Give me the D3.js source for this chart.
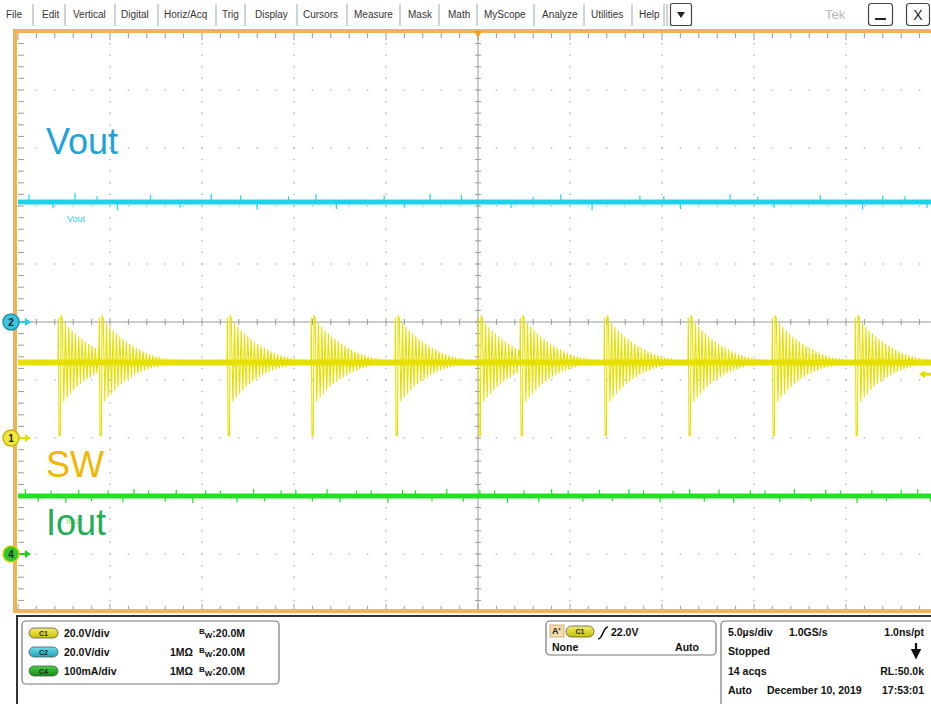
<!DOCTYPE html>
<html><head><meta charset="utf-8">
<script src="https://cdn.jsdelivr.net/npm/d3@7"></script>
<style>
html,body{margin:0;padding:0;background:#fff;}
svg{display:block;font-family:"Liberation Sans",Arial,Helvetica,sans-serif;}
</style></head><body>
<svg id="scope" width="931" height="704"></svg>
<script>
// ---- menu ----
const menuItems = ["File","Edit","Vertical","Digital","Horiz/Acq","Trig","Display","Cursors","Measure","Mask","Math","MyScope","Analyze","Utilities","Help"];

// ---- timebase: 5 µs/div, 10 divisions ----
const timeDomain = [0, 50];          // µs across the screen
const usPerDiv = 5;

// ---- channel setup ----
const chNames   = ["C1", "C2", "C4"];
const chScale   = [20, 20, 0.1];     // V/div, V/div, A/div
const chOffset  = [-2, 0, -4];       // ground marker position (divisions from centre)
const chMarks   = ["1", "2", "4"];
const chLabels  = ["SW", "Vout", "Iout"];

// ---- measured levels ----
const voutLevel = 41.4;              // V  (C2)
const ioutLevel = 0.10;              // A  (C4)
const swBase    = 26.0;              // V  (C1) idle level
const swTop     = 41.5;              // V  spike top
const swBottom  = 0.8;               // V  spike bottom
const trigLevel = 22.0;              // V

// switching events on C1 (µs)
const swPulseTimes = [2.17, 4.40, 11.36, 15.92, 20.49, 25.00, 27.28, 31.85, 36.41, 40.98, 45.49];
// damped ringing after each event: successive upper / lower peaks (V)
const ringHi = [41.0, 39.6, 38.3, 37.1, 36.0, 35.0, 34.1, 33.3, 32.5, 31.8, 31.1, 30.5, 29.9, 29.4, 28.9, 28.5, 28.1, 27.8, 27.5, 27.2, 26.9, 26.7];
const ringLo = [12.6, 14.0, 15.3, 16.5, 17.6, 18.6, 19.5, 20.3, 21.0, 21.7, 22.3, 22.8, 23.3, 23.7, 24.1, 24.4, 24.7, 25.0, 25.2, 25.4, 25.6, 25.7];
const ringPeriod = 0.18;             // µs per ring cycle

// noise glitches on the DC traces: time (µs) and excursion
const voutGlitchT = [0.6, 1.9, 3.1, 4.3, 5.4, 7.2, 8.8, 10.5, 12.1, 13.0, 14.7, 16.2, 17.3, 19.9, 21.0, 22.4, 24.1, 26.8, 28.0, 29.5, 31.2, 33.8, 35.1, 36.0, 38.7, 40.2, 41.1, 43.6, 45.9, 47.0, 48.2, 49.4];
const voutGlitchV = [1.2, -1.0, 1.4, 0.9, -1.3, 1.1, -0.9, 1.3, 1.0, -1.2, 0.9, 1.2, -1.1, 1.0, -0.9, 1.3, 1.1, -1.0, 0.8, 1.2, -1.3, 1.0, 0.9, -1.1, 1.2, 0.8, -0.9, 1.1, -1.2, 1.0, 0.9, -1.0];
const ioutGlitchT = [0.4, 1.1, 1.8, 2.6, 3.3, 4.0, 4.9, 5.7, 6.3, 7.1, 8.0, 8.6, 9.5, 10.2, 11.0, 11.9, 12.8, 13.4, 14.3, 15.1, 16.0, 16.8, 17.5, 18.4, 19.2, 20.1, 20.9, 21.6, 22.5, 23.3, 24.2, 25.1, 25.9, 26.6, 27.5, 28.3, 29.0, 29.9, 30.7, 31.6, 32.3, 33.2, 34.0, 34.9, 35.6, 36.5, 37.3, 38.1, 38.9, 39.8, 40.6, 41.4, 42.2, 43.1, 43.9, 44.7, 45.6, 46.4, 47.2, 48.0, 48.9, 49.6];
const ioutGlitchV = [0.012, -0.010, 0.009, -0.012, 0.011, -0.009, 0.010, -0.011, 0.012, 0.009, -0.010, 0.011, -0.012, 0.010, 0.009, -0.011, 0.012, -0.009, 0.010, 0.011, -0.010, 0.012, -0.011, 0.009, 0.010, -0.012, 0.011, 0.010, -0.009, 0.012, -0.010, 0.011, 0.009, -0.012, 0.010, -0.011, 0.012, 0.009, -0.010, 0.011, -0.009, 0.012, 0.010, -0.011, 0.009, 0.012, -0.010, 0.011, -0.012, 0.010, 0.009, -0.011, 0.012, -0.010, 0.011, 0.009, -0.012, 0.010, -0.009, 0.011, 0.012, -0.010];

// ---- readout texts ----
const vertReadout = [
  ["C1", "20.0V/div", "",    "20.0M"],
  ["C2", "20.0V/div", "1MΩ", "20.0M"],
  ["C4", "100mA/div", "1MΩ", "20.0M"]
];
const trigSource = "C1", trigText = "22.0V", trigMode = ["None", "Auto"];
const horizRows = [
  ["5.0µs/div", "1.0GS/s", "1.0ns/pt"],
  ["Stopped", "", ""],
  ["14 acqs", "", "RL:50.0k"],
  ["Auto", "December 10, 2019", "17:53:01"]
];

// ====================== drawing ======================
const svg = d3.select("#scope");
const W = 931, H = 704;
const plot = {left: 18, right: 938, top: 32, bottom: 612};
const x = d3.scaleLinear().domain(timeDomain).range([plot.left, plot.right]);
const yDiv = d3.scaleLinear().domain([-5, 5]).range([plot.bottom, plot.top]);
const chY = i => d3.scaleLinear()
  .domain([(-5 - chOffset[i]) * chScale[i], (5 - chOffset[i]) * chScale[i]])
  .range([plot.bottom, plot.top]);
const yC1 = chY(0), yC2 = chY(1), yC4 = chY(2);

const colors = {
  C1: "#e6e000", C2: "#1fd2e8", C4: "#22e022",
  lblSW: "#f2b705", lblVout: "#1ea3da", lblIout: "#1fae55",
  frame: "#f2b25a", grid: "#b4b4b4", axis: "#9a9a9a"
};

svg.append("rect").attr("width", W).attr("height", H).attr("fill", "#fff");

const defs = svg.append("defs");
defs.append("clipPath").attr("id", "plotClip").append("rect")
  .attr("x", 17).attr("y", 33).attr("width", W - 17).attr("height", 577);
defs.append("filter").attr("id", "soft")
  .attr("filterUnits", "userSpaceOnUse").attr("x", 0).attr("y", 0).attr("width", W).attr("height", H)
  .append("feGaussianBlur").attr("stdDeviation", 0.4);

// ---- graticule ----
const grat = svg.append("g");
const minorX = d3.range(0, 50.001, usPerDiv / 5);
const minorY = d3.range(-5, 5.001, 0.2);
const divX = d3.range(0, 51, usPerDiv);
const divY = d3.range(-5, 6, 1);
const dots = [];
divX.forEach(t => { if (t !== 25 && t > 0 && t < 50) minorY.forEach(d => dots.push([x(t), yDiv(d)])); });
divY.forEach(d => { if (d !== 0 && d > -5 && d < 5) minorX.forEach(t => dots.push([x(t), yDiv(d)])); });
grat.selectAll("rect.dot").data(dots).join("rect").attr("class", "dot")
  .attr("x", d => d[0] - 0.7).attr("y", d => d[1] - 0.7)
  .attr("width", 1.4).attr("height", 1.4).attr("fill", colors.grid);

// centre axes with minor ticks
grat.append("line").attr("x1", plot.left).attr("x2", W).attr("y1", yDiv(0)).attr("y2", yDiv(0))
  .attr("stroke", colors.axis).attr("stroke-width", 1);
grat.append("line").attr("x1", x(25)).attr("x2", x(25)).attr("y1", plot.top).attr("y2", plot.bottom)
  .attr("stroke", colors.axis).attr("stroke-width", 1);
grat.selectAll("line.tx").data(minorX).join("line").attr("class", "tx")
  .attr("x1", d => x(d)).attr("x2", d => x(d))
  .attr("y1", d => yDiv(0) - (d % usPerDiv === 0 ? 4 : 3)).attr("y2", d => yDiv(0) + (d % usPerDiv === 0 ? 4 : 3))
  .attr("stroke", colors.axis);
grat.selectAll("line.ty").data(minorY).join("line").attr("class", "ty")
  .attr("y1", d => yDiv(d)).attr("y2", d => yDiv(d))
  .attr("x1", x(25) - 3).attr("x2", x(25) + 3).attr("stroke", colors.axis);
// edge ticks
grat.selectAll("line.et").data(minorX).join("line").attr("class", "et")
  .attr("x1", d => x(d)).attr("x2", d => x(d)).attr("y1", plot.top).attr("y2", d => plot.top + (d % usPerDiv === 0 ? 8 : 6))
  .attr("stroke", colors.axis);
grat.selectAll("line.eb").data(minorX).join("line").attr("class", "eb")
  .attr("x1", d => x(d)).attr("x2", d => x(d)).attr("y1", plot.bottom).attr("y2", d => plot.bottom - (d % usPerDiv === 0 ? 8 : 6))
  .attr("stroke", colors.axis);
grat.selectAll("line.el").data(minorY).join("line").attr("class", "el")
  .attr("y1", d => yDiv(d)).attr("y2", d => yDiv(d)).attr("x1", plot.left).attr("x2", plot.left + 6)
  .attr("stroke", colors.axis);

// ---- waveforms ----
const traces = svg.append("g").attr("clip-path", "url(#plotClip)");
const line = d3.line().x(d => x(d[0]));

// Vout (C2)
traces.append("path").datum([[0, voutLevel], [50, voutLevel]])
  .attr("d", line.y(d => yC2(d[1]))).attr("stroke", colors.C2).attr("stroke-width", 5).attr("fill", "none").attr("filter", "url(#soft)");
traces.selectAll("line.vg").data(voutGlitchT).join("line").attr("class", "vg")
  .attr("x1", d => x(d)).attr("x2", d => x(d))
  .attr("y1", yC2(voutLevel)).attr("y2", (d, i) => yC2(voutLevel + voutGlitchV[i] * 2.2))
  .attr("stroke", colors.C2).attr("stroke-width", 1.2);

// Iout (C4)
traces.append("path").datum([[0, ioutLevel], [50, ioutLevel]])
  .attr("d", line.y(d => yC4(d[1]))).attr("stroke", colors.C4).attr("stroke-width", 5).attr("fill", "none").attr("filter", "url(#soft)");
traces.selectAll("line.ig").data(ioutGlitchT).join("line").attr("class", "ig")
  .attr("x1", d => x(d)).attr("x2", d => x(d))
  .attr("y1", yC4(ioutLevel)).attr("y2", (d, i) => yC4(ioutLevel + ioutGlitchV[i]))
  .attr("stroke", colors.C4).attr("stroke-width", 1.2);

// SW (C1): idle band + switching events with ringing
traces.append("path").datum([[0, swBase], [50, swBase]])
  .attr("d", line.y(d => yC1(d[1]))).attr("stroke", colors.C1).attr("stroke-width", 6).attr("fill", "none").attr("filter", "url(#soft)");
const swPts = [[0, swBase]];
swPulseTimes.forEach((t0, i) => {
  const tEnd = i + 1 < swPulseTimes.length ? swPulseTimes[i + 1] : 50;
  swPts.push([t0, swBase], [t0 + 0.02, swTop], [t0 + 0.06, swBottom], [t0 + 0.13, swBottom],
             [t0 + 0.17, swTop + 0.6], [t0 + 0.23, swTop]);
  let tk = t0 + 0.23;
  for (let k = 0; k < ringLo.length; k++) {
    const tl = tk + ringPeriod / 2, th = tk + ringPeriod;
    if (tl >= tEnd) break;
    swPts.push([tl, ringLo[k]]);
    if (th >= tEnd || k + 1 >= ringHi.length) { tk = th; break; }
    swPts.push([th, ringHi[k + 1]]);
    tk = th;
  }
  if (tk < tEnd) swPts.push([tk + ringPeriod / 2, swBase], [tEnd, swBase]);
});
traces.append("path").datum(swPts)
  .attr("d", line.y(d => yC1(d[1]))).attr("stroke", colors.C1).attr("stroke-width", 1.1)
  .attr("fill", "none").attr("stroke-linejoin", "miter");

// ---- channel name labels ----
const lbl = svg.append("g");
lbl.append("text").attr("x", 67).attr("y", 222).attr("font-size", 9).attr("fill", colors.C2).text("Vout");
lbl.append("text").attr("x", 66).attr("y", 524).attr("font-size", 9).attr("fill", "#8ce08c").text("Iout");
lbl.append("text").attr("x", 46).attr("y", 154).attr("font-size", 36).attr("fill", colors.lblVout).text(chLabels[1]);
lbl.append("text").attr("x", 46).attr("y", 477).attr("font-size", 36).attr("fill", colors.lblSW).text(chLabels[0]);
lbl.append("text").attr("x", 46).attr("y", 535).attr("font-size", 36).attr("fill", colors.lblIout).text(chLabels[2]);

// ---- frame ----
svg.append("path").attr("d", `M${W},31 H15 V611 H${W}`).attr("fill", "none")
  .attr("stroke", colors.frame).attr("stroke-width", 4);
// trigger position marker
svg.append("path").attr("d", `M${x(25) - 4},31 L${x(25) + 4},31 L${x(25)},38 Z`).attr("fill", "#f0a020");
// trigger level marker (right edge)
const yT = yC1(trigLevel);
svg.append("path").attr("d", `M919,${yT} L925,${yT - 4} L925,${yT - 1.5} L931,${yT - 1.5} L931,${yT + 1.5} L925,${yT + 1.5} L925,${yT + 4} Z`)
  .attr("fill", colors.C1);

// ground markers
const markerStyle = [
  {fill: "#f0e640", stroke: "#c8b400", arrow: "#e6e000"},
  {fill: "#3cc6de", stroke: "#1a95ad", arrow: "#2ccbe4"},
  {fill: "#2cc72c", stroke: "#d8d000", arrow: "#22d022"}
];
chMarks.forEach((m, i) => {
  const yy = yDiv(chOffset[i]);
  const st = markerStyle[i];
  const g = svg.append("g");
  g.append("line").attr("x1", 18).attr("x2", 27).attr("y1", yy).attr("y2", yy).attr("stroke", st.arrow).attr("stroke-width", 2);
  g.append("path").attr("d", `M25,${yy - 4} L31,${yy} L25,${yy + 4} Z`).attr("fill", st.arrow);
  g.append("circle").attr("cx", 11).attr("cy", yy).attr("r", 8).attr("fill", st.fill).attr("stroke", st.stroke).attr("stroke-width", 1.5);
  g.append("text").attr("x", 11).attr("y", yy + 3.5).attr("text-anchor", "middle").attr("font-size", 10).attr("font-weight", "bold").attr("fill", "#223").text(m);
});

// ---- bottom readout panel ----
const panel = svg.append("g");
panel.append("path").attr("d", `M17,${H} V616 H${W}`).attr("fill", "none").attr("stroke", "#333").attr("stroke-width", 2);
const pillFill = {C1: ["#f4ee6a", "#c9c000"], C2: ["#6fdcea", "#1ea4ba"], C4: ["#45d045", "#138a13"]};
function pill(g, px, py, w, h, ch) {
  const grad = "grad" + ch + Math.round(px);
  const lg = defs.append("linearGradient").attr("id", grad).attr("x1", 0).attr("x2", 0).attr("y1", 0).attr("y2", 1);
  lg.append("stop").attr("offset", "0%").attr("stop-color", pillFill[ch][0]);
  lg.append("stop").attr("offset", "100%").attr("stop-color", pillFill[ch][1]);
  g.append("rect").attr("x", px).attr("y", py).attr("width", w).attr("height", h).attr("rx", h / 2)
    .attr("fill", `url(#${grad})`).attr("stroke", "#555").attr("stroke-width", 0.8);
  g.append("text").attr("x", px + w / 2).attr("y", py + h / 2 + 2.5).attr("text-anchor", "middle")
    .attr("font-size", 7).attr("font-weight", "bold").attr("fill", "#222").text(ch);
}
// vertical box
panel.append("rect").attr("x", 22).attr("y", 621).attr("width", 257).attr("height", 63).attr("rx", 4)
  .attr("fill", "#fff").attr("stroke", "#777").attr("stroke-width", 1.2);
vertReadout.forEach((r, i) => {
  const cy = 633 + i * 19;
  pill(panel, 29, cy - 5, 29, 10, r[0]);
  const tx = (xx, s) => panel.append("text").attr("x", xx).attr("y", cy + 4)
    .attr("font-size", 10.5).attr("font-weight", "bold").attr("fill", "#111").text(s);
  tx(64, r[1]);
  if (r[2]) tx(170, r[2]);
  const bw = panel.append("text").attr("x", 199).attr("y", cy + 4).attr("font-size", 10.5).attr("font-weight", "bold").attr("fill", "#111");
  bw.append("tspan").attr("font-size", 8).attr("dy", -3).text("B");
  bw.append("tspan").attr("font-size", 8).attr("dy", 4).text("W");
  bw.append("tspan").attr("dy", -1).text(":" + r[3]);
});
// trigger box
panel.append("rect").attr("x", 546).attr("y", 621).attr("width", 170).attr("height", 34).attr("rx", 4)
  .attr("fill", "#fff").attr("stroke", "#777").attr("stroke-width", 1.2);
panel.append("rect").attr("x", 550).attr("y", 625).attr("width", 14).attr("height", 12).attr("fill", "#f6dcae").attr("stroke", "#c9a060").attr("stroke-width", 0.8);
panel.append("text").attr("x", 552).attr("y", 634).attr("font-size", 9).attr("font-weight", "bold").attr("fill", "#222").text("A'");
pill(panel, 566, 626, 28, 11, trigSource);
panel.append("path").attr("d", "M598,639 C603,639 603,627 608,627").attr("fill", "none").attr("stroke", "#111").attr("stroke-width", 1.6);
panel.append("text").attr("x", 611).attr("y", 636).attr("font-size", 10.5).attr("font-weight", "bold").attr("fill", "#111").text(trigText);
panel.append("text").attr("x", 552).attr("y", 651).attr("font-size", 10.5).attr("font-weight", "bold").attr("fill", "#111").text(trigMode[0]);
panel.append("text").attr("x", 699).attr("y", 651).attr("font-size", 10.5).attr("font-weight", "bold").attr("fill", "#111").attr("text-anchor", "end").text(trigMode[1]);
// horizontal box
panel.append("rect").attr("x", 721).attr("y", 621).attr("width", 230).attr("height", 100).attr("rx", 4)
  .attr("fill", "#fff").attr("stroke", "#777").attr("stroke-width", 1.2);
const hx = [[728, "start"], [789, "start"], [924, "end"]];
horizRows.forEach((r, i) => {
  const yy = 636 + i * 19.3;
  r.forEach((s, j) => {
    if (!s) return;
    let xx = hx[j][0], anc = hx[j][1];
    if (i === 3 && j === 1) xx = 767;
    panel.append("text").attr("x", xx).attr("y", yy).attr("text-anchor", anc)
      .attr("font-size", 10.5).attr("font-weight", "bold").attr("fill", "#111").text(s);
  });
});
panel.append("path").attr("d", "M916,643 V652 M912.5,650 L916,657 L919.5,650 Z")
  .attr("fill", "#111").attr("stroke", "#111").attr("stroke-width", 2.2);

// ---- menu bar ----
const menu = svg.append("g");
const menuX = [6, 42, 73, 121, 164, 222, 255, 303, 354, 408, 448, 484, 542, 591, 639];
const sepX = [33, 65, 115, 158, 216, 245, 297, 347, 400, 439, 477, 534, 584, 632, 664, 667];
menu.selectAll("text.m").data(menuItems).join("text").attr("class", "m")
  .attr("x", (d, i) => menuX[i]).attr("y", 18).attr("font-size", 10).attr("fill", "#333").text(d => d);
menu.selectAll("line.s").data(sepX).join("line").attr("class", "s")
  .attr("x1", d => d).attr("x2", d => d).attr("y1", 4).attr("y2", 26).attr("stroke", "#9aa").attr("stroke-width", 1);
menu.append("rect").attr("x", 670.5).attr("y", 3.5).attr("width", 21).attr("height", 22).attr("rx", 2)
  .attr("fill", "#fff").attr("stroke", "#444").attr("stroke-width", 1.2);
menu.append("path").attr("d", "M677,12 L685,12 L681,18 Z").attr("fill", "#222");
menu.append("text").attr("x", 825).attr("y", 19).attr("font-size", 13).attr("fill", "#b8b8b8").text("Tek");
menu.append("rect").attr("x", 868.5).attr("y", 3.5).attr("width", 24).attr("height", 22).attr("rx", 3)
  .attr("fill", "#fff").attr("stroke", "#444").attr("stroke-width", 1.2);
menu.append("line").attr("x1", 875).attr("x2", 886).attr("y1", 19).attr("y2", 19).attr("stroke", "#222").attr("stroke-width", 2);
menu.append("rect").attr("x", 906.5).attr("y", 3.5).attr("width", 23).attr("height", 22).attr("rx", 3)
  .attr("fill", "#fff").attr("stroke", "#444").attr("stroke-width", 1.2);
menu.append("text").attr("x", 918).attr("y", 20).attr("text-anchor", "middle").attr("font-size", 14).attr("fill", "#222").text("X");
</script>
</body></html>
